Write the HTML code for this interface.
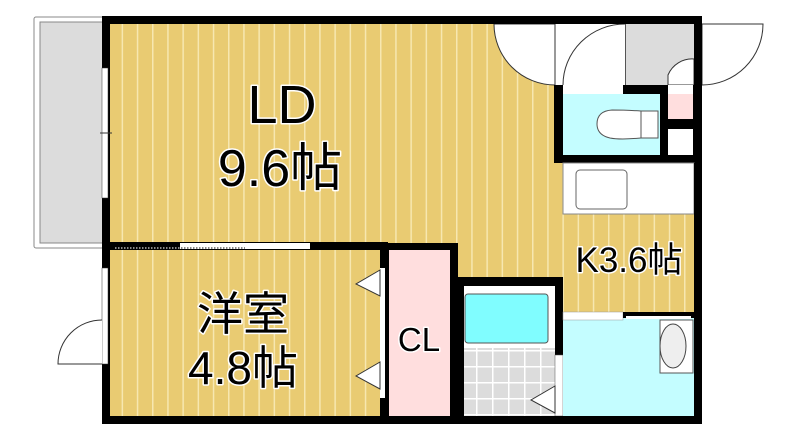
<!DOCTYPE html>
<html><head><meta charset="utf-8"><style>
html,body{margin:0;padding:0;background:#fff;width:800px;height:441px;overflow:hidden}
svg{display:block}
text{font-family:"Liberation Sans","Noto Sans CJK JP",sans-serif;fill:#000;stroke:#fff;stroke-width:3;paint-order:stroke;stroke-linejoin:round}
</style></head><body>
<svg width="800" height="441" viewBox="0 0 800 441" xmlns="http://www.w3.org/2000/svg">
<defs>
<pattern id="wood" x="0" y="0" width="15.2" height="10" patternUnits="userSpaceOnUse">
<rect width="15.2" height="10" fill="#e9cb72"/><rect x="0" width="1.5" height="10" fill="#f7e7b0"/>
</pattern>
<pattern id="tile" x="460" y="350" width="16" height="16" patternUnits="userSpaceOnUse">
<rect width="16" height="16" fill="#dcdcdc"/><rect width="16" height="1.5" fill="#fff"/><rect width="1.5" height="16" fill="#fff"/>
</pattern>
<pattern id="shoe" x="563" y="0" width="16" height="10" patternUnits="userSpaceOnUse">
<rect width="16" height="10" fill="#d6cfa6"/><rect width="1.5" height="10" fill="#8f8a6a"/>
</pattern>
</defs>
<rect x="34" y="17" width="72" height="231" fill="#fff" stroke="#888" stroke-width="1" rx="2"/>
<rect x="40" y="22" width="64" height="221" fill="#dcdcdc" stroke="#888" stroke-width="1"/>
<rect x="108" y="22" width="590" height="398" fill="url(#wood)"/>
<rect x="555" y="22" width="142" height="64" fill="#fff"/>
<rect x="563" y="24" width="62" height="61" fill="url(#shoe)"/>
<rect x="626" y="24" width="68" height="61" fill="#dcdcdc"/>
<line x1="625" y1="24" x2="625" y2="85" stroke="#555" stroke-width="2"/>
<path d="M563 85 L563 24 A62 61 0 0 1 625 24 L625 85 Z" fill="#fff"/>
<path d="M563 85 A62 61 0 0 1 625 24" fill="none" stroke="#333" stroke-width="1"/>
<path d="M668 85 L668 75 A26 26 0 0 1 694 59 L694 85 Z" fill="#fff" stroke="#333" stroke-width="1"/>
<path d="M494 24 L555 24 L555 85 A61 61 0 0 1 494 24 Z" fill="#fff" stroke="#333" stroke-width="1"/>
<path d="M702 24 L763 24 A61 61 0 0 1 702 85 Z" fill="#fff" stroke="#333" stroke-width="1"/>
<rect x="554" y="85" width="148" height="78" fill="#000"/>
<rect x="563" y="94" width="97" height="61" fill="#c4fdff"/>
<rect x="668" y="94" width="25" height="25" fill="#ffdede"/>
<rect x="668" y="129" width="25" height="26" fill="#fff"/>
<rect x="563" y="85" width="60" height="9" fill="#fff"/>
<rect x="668" y="85" width="25" height="9" fill="#fff"/>
<path d="M641 111 L658 111 L658 138 L641 138 Q620 140 610 138 Q597 135 597 124 Q597 111 612 110 Q625 110 641 111 Z" fill="#fff" stroke="#555" stroke-width="1"/>
<line x1="641" y1="111" x2="641" y2="138" stroke="#555" stroke-width="1"/>
<rect x="563" y="163" width="131" height="51" fill="#fff" stroke="#888" stroke-width="1"/>
<rect x="576" y="170" width="51" height="39" rx="4" fill="#fff" stroke="#666" stroke-width="1"/>
<rect x="380" y="243" width="78" height="180" fill="#000"/>
<rect x="389" y="250" width="61" height="166" fill="#ffdede"/>
<rect x="380" y="268" width="5" height="130" fill="#fff"/>
<path d="M380 270 L356 284 L380 296 Z M380 362 L356 376 L380 389 Z" fill="#fff" stroke="#333" stroke-width="1"/>
<rect x="458" y="277" width="105" height="146" fill="#000"/>
<rect x="464" y="286" width="91" height="130" fill="#fff"/>
<rect x="464" y="348" width="91" height="68" fill="url(#tile)"/>
<rect x="465" y="294" width="83" height="49" rx="3" fill="#80fdff" stroke="#555" stroke-width="1"/>
<rect x="555" y="355" width="8" height="61" fill="#fff" stroke="#555" stroke-width="0.5"/>
<path d="M555 386 L531 400 L555 413 Z" fill="#fff" stroke="#333" stroke-width="1"/>
<rect x="563" y="312" width="131" height="106" fill="#c4fdff"/>
<rect x="563" y="312" width="60" height="8" fill="#fff" stroke="#999" stroke-width="0.5"/>
<rect x="623" y="312" width="71" height="6" fill="#000"/>
<rect x="626" y="316" width="65" height="3" fill="#fff"/>
<rect x="660" y="320" width="33" height="53" fill="#fff" stroke="#555" stroke-width="1"/>
<ellipse cx="673" cy="346" rx="13" ry="22" fill="#eee" stroke="#444" stroke-width="1"/>
<rect x="102" y="16" width="600" height="8" fill="#000"/>
<rect x="102" y="16" width="8" height="408" fill="#000"/>
<rect x="102" y="416" width="600" height="8" fill="#000"/>
<rect x="694" y="163" width="8" height="261" fill="#000"/>
<rect x="694" y="16" width="8" height="70" fill="#000"/>
<rect x="555" y="16" width="8" height="8" fill="#000"/>
<rect x="102" y="68" width="6" height="130" fill="#fff" stroke="#333" stroke-width="0.5"/>
<line x1="100" y1="133" x2="112" y2="133" stroke="#333" stroke-width="1"/>
<rect x="102" y="268" width="6" height="96" fill="#fff" stroke="#333" stroke-width="0.5"/>
<path d="M102 320 A44 44 0 0 0 58 364 L102 364" fill="#fff" stroke="#333" stroke-width="1"/>
<rect x="102" y="242" width="286" height="8" fill="#000"/>
<rect x="180" y="243" width="130" height="6" fill="#fff"/>
<line x1="115" y1="248" x2="245" y2="248" stroke="#888" stroke-width="2" stroke-dasharray="1.5 1.5"/>
<text x="282" y="123" font-size="54" text-anchor="middle">LD</text>
<text x="280" y="186" font-size="52" text-anchor="middle">9.6帖</text>
<text x="243" y="330" font-size="46" text-anchor="middle">洋室</text>
<text x="243" y="384" font-size="46" text-anchor="middle">4.8帖</text>
<text x="419" y="351" font-size="33" text-anchor="middle">CL</text>
<text x="629" y="272" font-size="35" text-anchor="middle">K3.6帖</text>
</svg>
</body></html>
